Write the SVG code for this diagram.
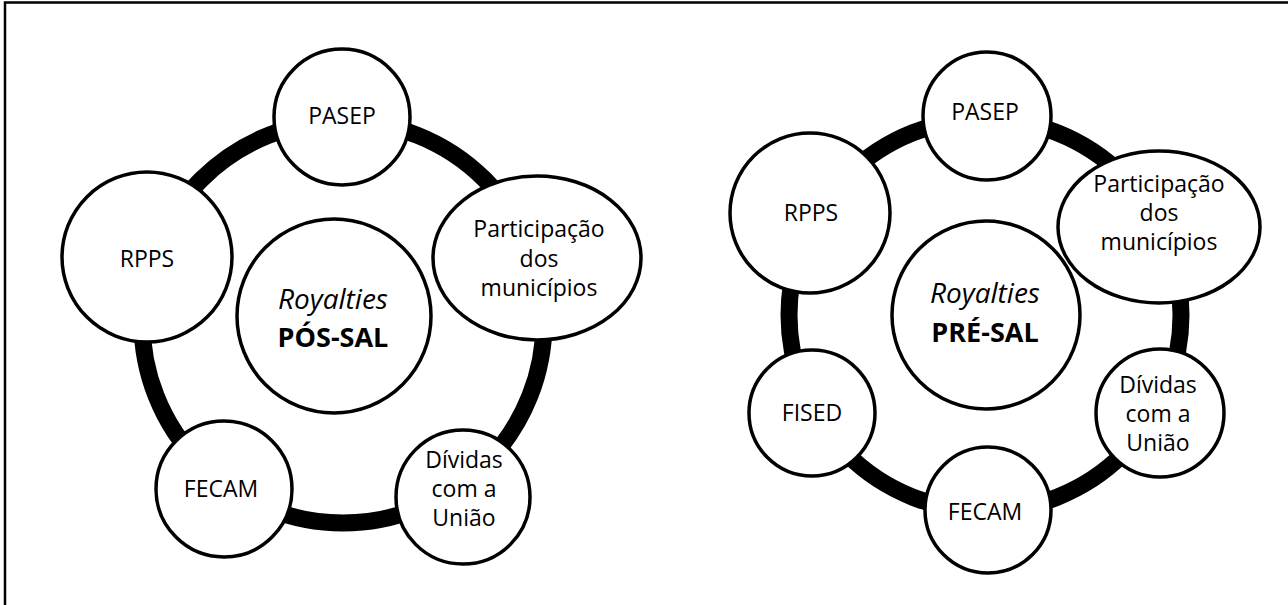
<svg xmlns="http://www.w3.org/2000/svg" width="1288" height="605" viewBox="0 0 1288 605">
<style>
.bg{fill:#fff}
.frame{fill:none;stroke:#000;stroke-width:2.5}
.ring{fill:none;stroke:#000;stroke-width:17}
.node{fill:#fff;stroke:#000;stroke-width:3.5}
.t{font-family:"Open Sans","Liberation Sans",sans-serif;font-size:23px;fill:#000;text-anchor:middle}
.ti{font-family:"Open Sans","Liberation Sans",sans-serif;font-size:28px;font-style:italic;fill:#000;text-anchor:middle}
.tb{font-family:"Open Sans","Liberation Sans",sans-serif;font-size:27px;font-weight:bold;fill:#000;text-anchor:middle}
</style>
<rect class="bg" x="0" y="0" width="1288" height="605"/>
<path class="frame" d="M5,605 V2.5 H1288"/>
<g id="connectors">
<circle class="ring" cx="343" cy="322" r="201"/>
<circle class="ring" cx="985" cy="315" r="196"/>
</g>
<g id="left-center"><circle class="node" cx="334" cy="316" r="97"/><text class="ti" x="333" y="309">Royalties</text><text class="tb" x="333" y="347">PÓS-SAL</text></g>
<g id="left-pasep"><circle class="node" cx="342" cy="117" r="68"/><text class="t" x="342" y="124">PASEP</text></g>
<g id="left-rpps"><circle class="node" cx="147" cy="257" r="85"/><text class="t" x="147" y="267">RPPS</text></g>
<g id="left-participacao"><ellipse class="node" cx="537" cy="258" rx="104" ry="82"/><text class="t" x="539" y="237">Participação</text><text class="t" x="539" y="267">dos</text><text class="t" x="539" y="296">municípios</text></g>
<g id="left-fecam"><circle class="node" cx="224" cy="489" r="68"/><text class="t" x="221" y="497">FECAM</text></g>
<g id="left-dividas"><circle class="node" cx="463" cy="497" r="67"/><text class="t" x="464" y="468">Dívidas</text><text class="t" x="464" y="497">com a</text><text class="t" x="464" y="526">União</text></g>
<g id="right-center"><circle class="node" cx="986" cy="315" r="94"/><text class="ti" x="985" y="303">Royalties</text><text class="tb" x="985" y="342">PRÉ-SAL</text></g>
<g id="right-pasep"><circle class="node" cx="987" cy="116" r="64"/><text class="t" x="985" y="120">PASEP</text></g>
<g id="right-rpps"><circle class="node" cx="810" cy="213" r="80"/><text class="t" x="811" y="221">RPPS</text></g>
<g id="right-participacao"><ellipse class="node" cx="1159" cy="227" rx="101" ry="76"/><text class="t" x="1159" y="192">Participação</text><text class="t" x="1159" y="221">dos</text><text class="t" x="1159" y="250">municípios</text></g>
<g id="right-fised"><circle class="node" cx="812" cy="413" r="63"/><text class="t" x="812" y="421">FISED</text></g>
<g id="right-dividas"><circle class="node" cx="1160" cy="413" r="64"/><text class="t" x="1158" y="393">Dívidas</text><text class="t" x="1158" y="422">com a</text><text class="t" x="1158" y="451">União</text></g>
<g id="right-fecam"><circle class="node" cx="988" cy="510" r="63"/><text class="t" x="985" y="520">FECAM</text></g>
</svg>
